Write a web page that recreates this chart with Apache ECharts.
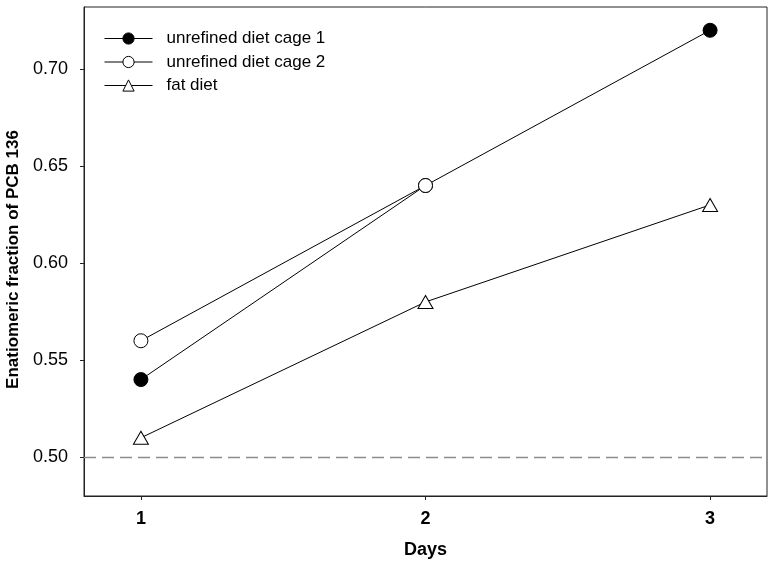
<!DOCTYPE html>
<html><head><meta charset="utf-8">
<script src="https://cdn.jsdelivr.net/npm/echarts@6/dist/echarts.min.js"></script>
<style>html,body{margin:0;padding:0;background:#fff}#c{width:775px;height:563px}</style>
</head><body><div id="c"></div>
<script>
const days = [1, 2, 3];
const cage1 = [0.54, 0.64, 0.72];
const cage2 = [0.56, 0.64, null];
const fatDiet = [0.51, 0.58, 0.63];
const yTicks = [0.50, 0.55, 0.60, 0.65, 0.70];
const refValue = 0.50;
const names = ['unrefined diet cage 1', 'unrefined diet cage 2', 'fat diet'];

const pairs = arr => days.map((d, i) => [d, arr[i]]).filter(p => p[1] !== null);
const font = 'Arial, "Liberation Sans", sans-serif';
const chart = echarts.init(document.getElementById('c'), null, {renderer: 'canvas'});
const lineStyle = {color: '#000', width: 1};
chart.setOption({
  animation: false,
  backgroundColor: '#fff',
  grid: {left: 84, top: 7, right: 8, bottom: 67, show: true, borderColor: '#222', borderWidth: 1,
         backgroundColor: 'transparent', outerBoundsMode: 'none', containLabel: false},
  legend: {
    left: 99, top: 25, orient: 'vertical', itemWidth: 48, itemHeight: 14, itemGap: 6.5,
    lineStyle: {width: 1},
    itemStyle: {borderWidth: 1},
    textStyle: {fontFamily: font, fontSize: 17, color: '#000', padding: [0, 0, 0, 9]},
    data: names
  },
  xAxis: {
    type: 'value', min: 0.8, max: 3.2,
    name: 'Days', nameLocation: 'middle', nameGap: 45,
    nameTextStyle: {fontFamily: font, fontSize: 18, fontWeight: 'bold', color: '#000'},
    axisLine: {show: true, lineStyle: {color: '#222'}},
    axisTick: {show: true, length: 4, customValues: days, lineStyle: {color: '#222'}},
    axisLabel: {customValues: days, margin: 14, fontFamily: font, fontSize: 18, fontWeight: 'bold', color: '#000'},
    splitLine: {show: false}
  },
  yAxis: {
    type: 'value', min: 0.48, max: 0.732,
    name: 'Enatiomeric fraction of PCB 136', nameLocation: 'middle', nameGap: 60,
    nameTextStyle: {fontFamily: font, fontSize: 17, fontWeight: 'bold', color: '#000', padding: [0, 16, 0, 0]},
    axisLine: {show: true, lineStyle: {color: '#222'}},
    axisTick: {show: true, length: 4, customValues: yTicks, lineStyle: {color: '#222'}},
    axisLabel: {customValues: yTicks, margin: 16, fontFamily: font, fontSize: 18, color: '#000', formatter: v => v.toFixed(2)},
    splitLine: {show: false}
  },
  series: [
    {
      name: names[0], type: 'line', data: pairs(cage1), symbol: 'circle', symbolSize: 14,
      lineStyle: lineStyle, itemStyle: {color: '#000', borderColor: '#000', borderWidth: 1},
      markLine: {silent: true, symbol: 'none', label: {show: false},
        lineStyle: {color: '#8c8c8c', type: [12, 6], width: 1.3},
        data: [{yAxis: refValue}]}
    },
    {
      name: names[1], type: 'line', data: pairs(cage2), symbol: 'circle', symbolSize: 14,
      lineStyle: lineStyle, itemStyle: {color: '#fff', borderColor: '#000', borderWidth: 1}
    },
    {
      name: names[2], type: 'line', data: pairs(fatDiet), symbol: 'triangle', symbolSize: [15, 13],
      lineStyle: lineStyle, itemStyle: {color: '#fff', borderColor: '#000', borderWidth: 1}
    }
  ]
});
</script></body></html>
